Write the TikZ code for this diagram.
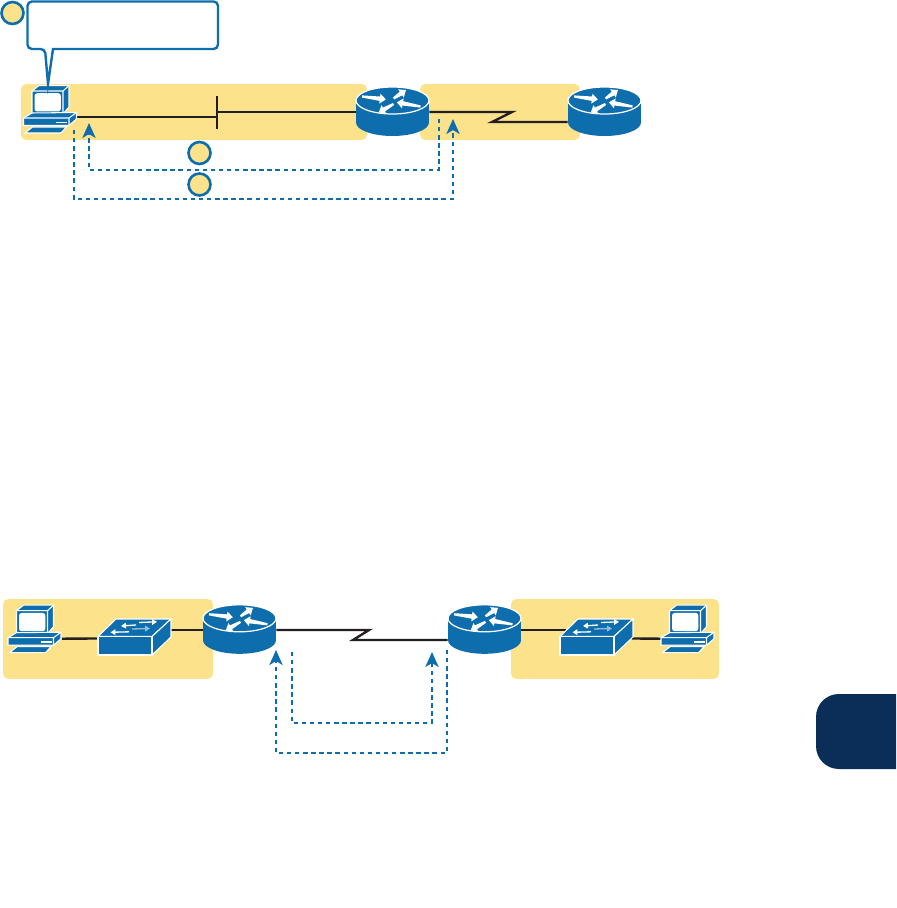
\documentclass[tikz,border=0pt]{standalone}
\usepackage{amsmath,amssymb,amsfonts}
\usetikzlibrary{arrows.meta,positioning,calc}
\definecolor{netblue}{HTML}{0E6EAD}
\definecolor{bandyellow}{HTML}{FDE28C}
\definecolor{tabnavy}{HTML}{0A2E57}
\definecolor{wireblack}{HTML}{231F20}
\newcommand{\routerarrow}[4]{\fill[white, shift={(#1,#2)}, rotate=#3] (0,-1.1) -- (#4-6,-2.2) -- (#4-6,-5) -- (#4,0) -- (#4-6,5) -- (#4-6,2.2) -- (0,1.1) -- cycle;}

\begin{document}
\begin{tikzpicture}[x=0.02cm,y=-0.02cm,
  band/.style={fill=bandyellow, rounded corners=3pt, inner sep=0pt},
  badge/.style={circle, draw=netblue, fill=bandyellow, line width=1.5pt, minimum size=0.44cm, inner sep=0pt},
  routerbox/.style={minimum width=1.46cm, minimum height=0.98cm, inner sep=0pt},
  switchbox/.style={minimum width=1.46cm, minimum height=0.72cm, inner sep=0pt},
  pcbox/.style={minimum width=1.06cm, minimum height=0.96cm, inner sep=0pt},
  wire/.style={draw=wireblack, line width=1.35pt},
  trace/.style={draw=netblue, line width=1.4pt, dash pattern=on 2.5pt off 2.1pt},
  traceto/.style={trace, -{Stealth[length=8.5pt,width=7.5pt,inset=2.2pt]}},
  thinarrow/.style={white, line width=0.75pt, -{Triangle[length=2.8pt,width=3.2pt]}},
  router/.pic={
    \fill[netblue] (0,11) ellipse [x radius=36.5, y radius=13.5];
    \fill[netblue] (-36.5,-11) rectangle (36.5,11);
    \filldraw[fill=netblue, draw=white, line width=0.7pt] (0,-11) ellipse [x radius=36.5, y radius=13.5];
    \routerarrow{-30.5}{-15}{-7}{24}
    \routerarrow{1}{-13}{34}{15}
    \routerarrow{1}{-7.5}{210}{17}
    \routerarrow{28}{-5}{170}{24}
  },
  switch/.pic={
    \begin{scope}[shift={(-36.5,-18)}]
      \filldraw[fill=netblue, draw=white, line width=0.6pt] (0,17.5) -- (18,0) -- (73,0) -- (54,17.5) -- cycle;
      \filldraw[fill=netblue, draw=white, line width=0.6pt] (54,17.5) -- (73,0) -- (73,18) -- (54,36) -- cycle;
      \filldraw[fill=netblue, draw=white, line width=0.6pt] (0,17.5) rectangle (54,36);
      \draw[thinarrow] (38,6) -- (23,7);
      \draw[thinarrow] (41,3.5) -- (59,2.8);
      \draw[thinarrow] (31,12.8) -- (12.5,13.3);
      \draw[thinarrow, white!55!netblue] (34,10) -- (52,9.4);
    \end{scope}
  },
  pc/.pic={
    \begin{scope}[shift={(-26.5,-24)}]
      \filldraw[fill=netblue, draw=white, line width=0.6pt] (8,5) -- (15,-0.5) -- (45,-0.5) -- (45,21) -- (39,28) -- (8,28) -- cycle;
      \draw[white, line width=0.6pt] (8,5) -- (39,5) -- (45,-0.5) (39,5) -- (39,28);
      \fill[white, rounded corners=1.5pt] (10.5,7.2) rectangle (36.8,25.5);
      \filldraw[fill=netblue, draw=white, line width=0.6pt] (-0.5,32) -- (8,27) -- (52.5,26.5) -- (52.5,33) -- (45,39.5) -- (-0.5,39.5) -- cycle;
      \draw[white, line width=0.6pt] (-0.5,32) -- (45,32) -- (52.5,26.5) (45,32) -- (45,39.5);
      \draw[white, line width=0.9pt] (32,36.5) -- (43,36.5);
      \filldraw[fill=netblue, draw=white, line width=0.6pt] (1,47) -- (8.5,41) -- (42.5,41) -- (37,47) -- cycle;
    \end{scope}
  }
]
\useasboundingbox (0,0) rectangle (896,908);

\node[band, minimum width=6.92cm, minimum height=1.12cm] (bandA) at (194,112) {};
\node[band, minimum width=3.2cm, minimum height=1.12cm] (bandB) at (500,112) {};
\node[band, minimum width=4.2cm, minimum height=1.6cm] (bandC) at (108,639) {};
\node[band, minimum width=4.16cm, minimum height=1.6cm] (bandD) at (615,639) {};

\node[pcbox] (pcA) at (50.5,110) {};
\node[routerbox] (routerA) at (392.5,111.5) {};
\node[routerbox] (routerB) at (604.5,111.5) {};
\node[pcbox] (pcB) at (35,629.7) {};
\node[switchbox] (switchB) at (134.5,637) {};
\node[routerbox] (routerC) at (239.5,629.3) {};
\node[routerbox] (routerD) at (484.5,629.3) {};
\node[switchbox] (switchD) at (596.5,637) {};
\node[pcbox] (pcD) at (688,629.7) {};

\coordinate (lanL) at (217,117);
\coordinate (lanR) at (217,112);
\coordinate (tickT) at (217,96);
\coordinate (tickB) at (217,129);
\coordinate (zigA) at (512,112);
\coordinate (zigB) at (492,122);
\coordinate (zigC) at (369,630);
\coordinate (zigD) at (353,640);

\draw[wire] (pcA.east |- lanL) -- (lanL);
\draw[wire] (tickT) -- (tickB);
\draw[wire] (lanR) -- (routerA.west |- lanR);
\draw[wire] (routerA.east |- zigA) -- (zigA) -- (zigB) -- (routerB.west |- zigB);
\draw[wire] ($(pcB.east)+(0,9)$) -- ($(switchB.west)+(0,1.5)$);
\draw[wire] ($(switchB.east)+(0,-7)$) -- (routerC.west |- zigC);
\draw[wire] (routerC.east |- zigC) -- (zigC) -- (zigD) -- (routerD.west |- zigD);
\draw[wire] (routerD.east |- zigC) -- ($(switchD.west)+(6.5,-7)$);
\draw[wire] ($(switchD.east)+(-1.5,1.5)$) -- ($(pcD.west)+(0,9)$);

\pic at (pcA) {pc};
\pic at (routerA) {router};
\pic at (routerB) {router};
\pic at (pcB) {pc};
\pic at (switchB) {switch};
\pic at (routerC) {router};
\pic at (routerD) {router};
\pic at (switchD) {switch};
\pic at (pcD) {pc};

\filldraw[draw=netblue, fill=white, line width=1.35pt, rounded corners=2.5pt]
  (53,49) -- (218,49) -- (218,1.5) -- (27.5,1.5) -- (27.5,49) -- (45,49) [sharp corners] -- (48,84) -- cycle;

\node[badge] (stepA) at (12.5,13) {};
\node[badge] (stepB) at (199.5,153) {};
\node[badge] (stepC) at (199.5,184.5) {};

\coordinate (replyA) at (439,119);
\coordinate (replyAend) at (89,123);
\coordinate (sendA) at (74,130);
\coordinate (sendAend) at (453,119);
\coordinate (sendB) at (292,652);
\coordinate (sendBend) at (432,652);
\coordinate (replyB) at (447,650);
\coordinate (replyBend) at (276,650);

\draw[traceto] (replyA) -- ++(0,51) -| (replyAend);
\draw[traceto] (sendA) -- ++(0,69) -| (sendAend);
\draw[traceto] (sendB) -- ++(0,71) -| (sendBend);
\draw[traceto] (replyB) -- ++(0,103) -| (replyBend);

\fill[tabnavy, rounded corners=13pt] (896,769) -- (816,769) -- (816,694) -- (896,694);
\end{tikzpicture}
\end{document}
